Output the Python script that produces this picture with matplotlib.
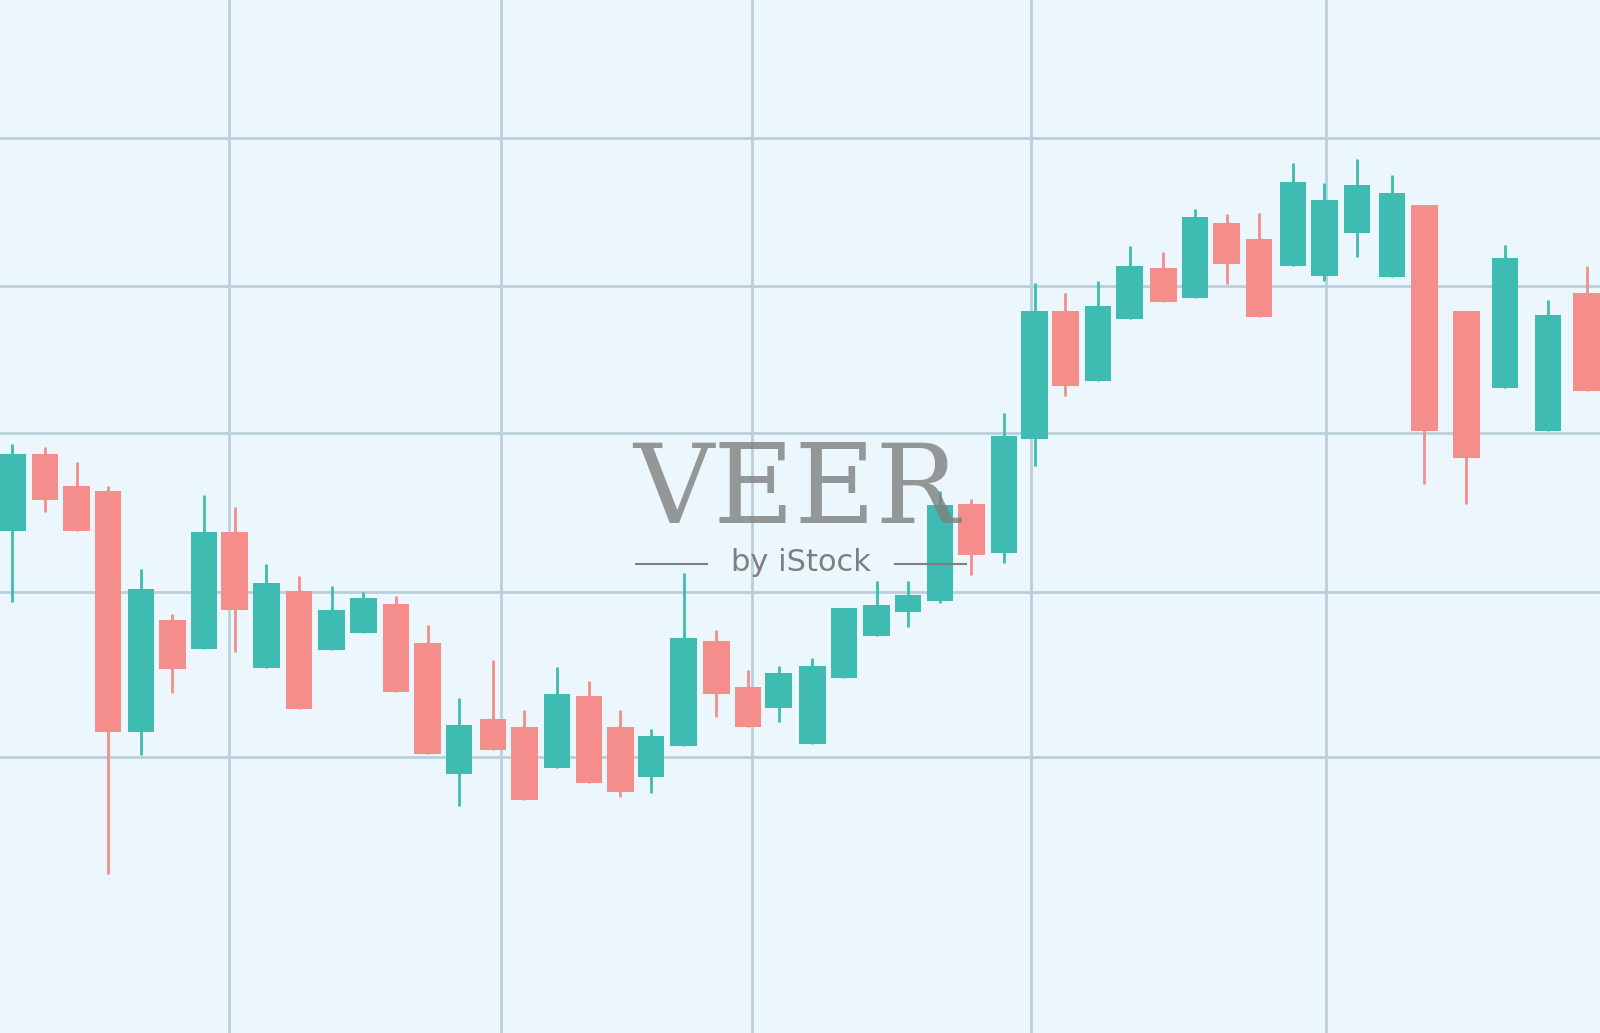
import matplotlib
matplotlib.use("Agg")
import matplotlib.pyplot as plt

H = 1012
xpos = [12,44,75,106,138,169,200,230,261,293,325,356,388,419,450,483,514,546,577,608,638,670,702,733,763,796,827,859,890,921,952,984,1014,1044,1076,1107,1140,1171,1202,1234,1267,1298,1330,1364,1396,1437,1475,1517,1555]
open_px = [520,445,476,481,717,607,636,521,654,579,637,620,592,630,758,704,712,752,682,712,761,731,628,673,694,729,664,623,600,589,494,542,430,305,373,313,263,292,218,234,261,270,228,271,201,305,380,422,287]
close_px = [445,490,520,717,577,655,521,598,571,695,598,586,678,739,710,735,784,680,767,776,721,625,680,712,659,652,596,593,583,495,544,427,305,378,300,261,296,213,259,311,178,196,181,189,422,449,253,309,383]
high_px = [435,438,453,476,557,602,485,497,553,564,574,580,584,612,684,647,696,653,667,696,714,561,617,656,652,645,596,569,569,481,489,405,277,287,275,241,247,205,210,209,160,179,156,171,201,305,240,294,261]
low_px = [590,502,520,856,740,679,636,639,654,695,637,620,678,739,790,735,784,752,767,781,777,731,702,712,707,729,664,623,614,591,563,552,457,388,373,313,296,292,278,311,261,275,252,271,474,494,380,422,383]

o = [H - v for v in open_px]; c = [H - v for v in close_px]
hi = [H - v for v in high_px]; lo = [H - v for v in low_px]

vgrid = [224, 491, 737, 1010, 1299]
hgrid = [H - v for v in [135, 280, 424, 580, 742]]

GREEN = "#3fbcb1"; RED = "#f58d8a"
fig = plt.figure(figsize=(16, 10.33), dpi=100)
ax = fig.add_axes([0, 0, 1, 1])
ax.set_facecolor("#ebf7fd"); fig.patch.set_facecolor("#ebf7fd")
for v in vgrid: ax.axvline(v, color="#b9cfda", lw=2, zorder=0)
for h in hgrid: ax.axhline(h, color="#b9cfda", lw=2, zorder=0)
for x, a, b, h, l in zip(xpos, o, c, hi, lo):
    col = GREEN if b >= a else RED
    ax.vlines(x, l, h, color=col, lw=2, zorder=2)
    ax.bar(x, abs(b - a), bottom=min(a, b), width=26, color=col, zorder=3)
ax.text(780, H - 482, "VEER", fontsize=80, family="DejaVu Serif", color="#7f7f7f", alpha=0.8,
        ha="center", va="center", zorder=5)
ax.text(785, H - 551, "by iStock", fontsize=22, color="#7f7f7f", ha="center", va="center", zorder=5)
ax.plot([623, 693], [H - 553, H - 553], color="#7f7f7f", lw=1.5, zorder=5)
ax.plot([877, 947], [H - 553, H - 553], color="#7f7f7f", lw=1.5, zorder=5)
ax.set_xlim(0, 1568); ax.set_ylim(0, H)
ax.axis("off")
fig.savefig("out.png", dpi=100, facecolor=fig.get_facecolor())
